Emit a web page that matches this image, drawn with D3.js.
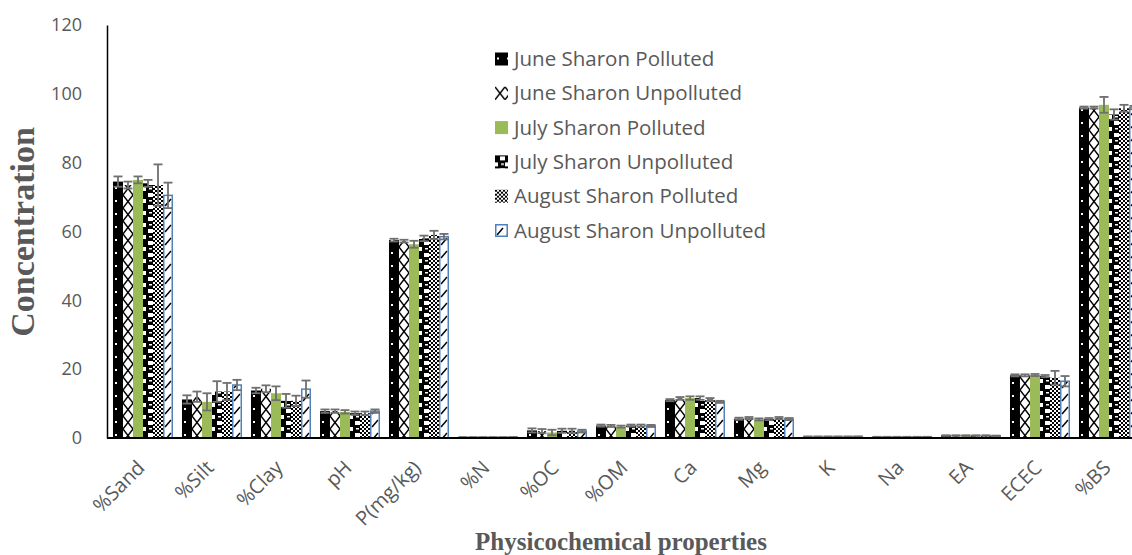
<!DOCTYPE html>
<html>
<head>
<meta charset="utf-8">
<script src="https://cdn.jsdelivr.net/npm/d3@7"></script>
<style>
  body { margin: 0; background: #fff; }
  svg { display: block; }
</style>
</head>
<body>
<script>
/* Categories along the x axis */
var categories = ["%Sand", "%Silt", "%Clay", "pH", "P(mg/kg)", "%N", "%OC", "%OM", "Ca", "Mg", "K", "Na", "EA", "ECEC", "%BS"];

/* Series names, in legend order */
var seriesNames = ["June Sharon Polluted", "June Sharon Unpolluted", "July Sharon Polluted",
                   "July Sharon Unpolluted", "August Sharon Polluted", "August Sharon Unpolluted"];

/* Mean values, one array per series */
var juneP = [74.5, 11.2, 13.8, 7.8, 57.5, 0.2, 2.2, 3.6, 11.0, 5.6, 0.4, 0.3, 0.7, 18.2, 96.0];
var juneU = [73.5, 12.0, 14.3, 7.8, 57.2, 0.2, 2.0, 3.5, 11.5, 5.8, 0.4, 0.3, 0.7, 18.2, 96.0];
var julyP = [75.0, 10.5, 13.0, 7.6, 56.3, 0.2, 1.6, 3.3, 11.6, 5.4, 0.4, 0.3, 0.7, 18.3, 96.8];
var julyU = [74.0, 13.5, 10.8, 7.2, 58.0, 0.2, 2.1, 3.6, 11.6, 5.5, 0.4, 0.3, 0.7, 18.0, 94.0];
var augP  = [73.5, 13.5, 10.8, 7.2, 59.0, 0.2, 2.1, 3.6, 11.2, 5.8, 0.4, 0.3, 0.7, 17.5, 95.8];
var augU  = [70.5, 15.4, 14.2, 7.8, 58.5, 0.2, 2.0, 3.5, 10.5, 5.5, 0.4, 0.3, 0.6, 16.5, 96.0];

/* Error bar half-widths, one array per series */
var juneErr = [1.5, 1.2, 0.8, 0.5, 0.4, 0.05, 0.6, 0.3, 0.3, 0.3, 0.05, 0.05, 0.1, 0.3, 0.3];
var juneUErr = [1.0, 1.5, 1.0, 0.5, 0.4, 0.05, 0.6, 0.3, 0.4, 0.3, 0.05, 0.05, 0.1, 0.3, 0.3];
var julyErr = [1.0, 2.5, 2.0, 0.5, 1.0, 0.05, 0.8, 0.3, 0.5, 0.3, 0.05, 0.05, 0.1, 0.3, 2.3];
var julyUErr = [1.0, 3.0, 2.0, 0.5, 0.8, 0.05, 0.6, 0.3, 0.5, 0.3, 0.05, 0.05, 0.1, 0.3, 1.5];
var augErr = [6.0, 2.5, 1.5, 0.5, 1.2, 0.05, 0.6, 0.3, 0.4, 0.3, 0.05, 0.05, 0.1, 2.0, 1.0];
var augUErr = [3.7, 1.5, 2.5, 0.5, 0.8, 0.05, 0.4, 0.3, 0.3, 0.3, 0.05, 0.05, 0.1, 1.5, 0.5];

/* Y axis tick values */
var yTicks = [0, 20, 40, 60, 80, 100, 120];

var values = [juneP, juneU, julyP, julyU, augP, augU];
var errors = [juneErr, juneUErr, julyErr, julyUErr, augErr, augUErr];

var width = 1132, height = 555;
var textColor = "#595959";

var svg = d3.select("body").append("svg")
    .attr("width", width)
    .attr("height", height);

// fill patterns, roughly the Excel pattern fills
var defs = svg.append("defs");

var p0 = defs.append("pattern").attr("id", "pat0")
    .attr("patternUnits", "userSpaceOnUse").attr("width", 10).attr("height", 13);
p0.append("rect").attr("width", 10).attr("height", 13).attr("fill", "#000");
p0.append("rect").attr("x", 2).attr("y", 5).attr("width", 2).attr("height", 2).attr("fill", "#fff");

var p1 = defs.append("pattern").attr("id", "pat1")
    .attr("patternUnits", "userSpaceOnUse").attr("width", 10).attr("height", 13);
p1.append("rect").attr("width", 10).attr("height", 13).attr("fill", "#fff");
p1.append("path").attr("d", "M0,0L10,13M10,0L0,13")
    .attr("stroke", "#000").attr("stroke-width", 1.4).attr("fill", "none");

var p3 = defs.append("pattern").attr("id", "pat3")
    .attr("patternUnits", "userSpaceOnUse").attr("width", 10).attr("height", 12);
p3.append("rect").attr("width", 10).attr("height", 12).attr("fill", "#000");
p3.append("rect").attr("x", 5).attr("y", 1).attr("width", 5).attr("height", 4).attr("fill", "#fff");
p3.append("rect").attr("x", 0).attr("y", 7).attr("width", 3).attr("height", 4).attr("fill", "#fff");
p3.append("rect").attr("x", 6).attr("y", 8).attr("width", 3).attr("height", 1.5).attr("fill", "#fff");

var p4 = defs.append("pattern").attr("id", "pat4")
    .attr("patternUnits", "userSpaceOnUse").attr("width", 4).attr("height", 4);
p4.append("rect").attr("width", 4).attr("height", 4).attr("fill", "#fff");
p4.append("rect").attr("x", 0).attr("y", 0).attr("width", 2).attr("height", 2).attr("fill", "#000");
p4.append("rect").attr("x", 2).attr("y", 2).attr("width", 2).attr("height", 2).attr("fill", "#000");

var p5 = defs.append("pattern").attr("id", "pat5")
    .attr("patternUnits", "userSpaceOnUse").attr("width", 10).attr("height", 13);
p5.append("rect").attr("width", 10).attr("height", 13).attr("fill", "#fff");
p5.append("path").attr("d", "M2,11L8,4")
    .attr("stroke", "#000").attr("stroke-width", 1.5).attr("fill", "none");

var fills = ["url(#pat0)", "url(#pat1)", "#9BBB59", "url(#pat3)", "url(#pat4)", "url(#pat5)"];
var strokes = ["none", "none", "none", "none", "none", "#4F81BD"];

var y = d3.scaleLinear()
    .domain([0, 120])
    .range([438, 25]);

var x = d3.scaleBand()
    .domain(categories)
    .range([108.5, 1143.5])
    .paddingInner(0.13)
    .paddingOuter(0.065);

var x1 = d3.scaleBand()
    .domain(d3.range(seriesNames.length))
    .range([0, x.bandwidth()]);

// flatten into one record per bar
var bars = [];
categories.forEach(function(cat, ci){
    values.forEach(function(series, si){
        bars.push({cat: cat, s: si, v: series[ci], e: errors[si][ci]});
    });
});

// each bar sits in its own translated group so the pattern starts at the bar's left edge
var barG = svg.selectAll(".bar")
    .data(bars)
    .enter().append("g")
    .attr("class", "bar")
    .attr("transform", function(d){ return "translate(" + (x(d.cat) + x1(d.s)) + ",0)"; });

barG.append("rect")
    .attr("x", function(d){ return d.s === 5 ? 0.75 : 0; })
    .attr("y", function(d){ return y(d.v); })
    .attr("width", function(d){ return d.s === 5 ? x1.bandwidth() - 1.5 : x1.bandwidth(); })
    .attr("height", function(d){ return y(0) - y(d.v); })
    .attr("fill", function(d){ return fills[d.s]; })
    .attr("stroke", function(d){ return strokes[d.s]; })
    .attr("stroke-width", 1.5);

// error bars
var errColor = "#6f6f6f";
var cx = x1.bandwidth() / 2;
barG.append("line")
    .attr("x1", cx).attr("x2", cx)
    .attr("y1", function(d){ return y(Math.max(0, d.v - d.e)); })
    .attr("y2", function(d){ return y(d.v + d.e); })
    .attr("stroke", errColor).attr("stroke-width", 1.8);
barG.append("line")
    .attr("x1", cx - 4.5).attr("x2", cx + 4.5)
    .attr("y1", function(d){ return y(d.v + d.e); })
    .attr("y2", function(d){ return y(d.v + d.e); })
    .attr("stroke", errColor).attr("stroke-width", 1.8);
barG.append("line")
    .attr("x1", cx - 4.5).attr("x2", cx + 4.5)
    .attr("y1", function(d){ return y(Math.max(0, d.v - d.e)); })
    .attr("y2", function(d){ return y(Math.max(0, d.v - d.e)); })
    .attr("stroke", errColor).attr("stroke-width", 1.8);

// y axis
var yAxis = svg.append("g")
    .attr("transform", "translate(107,0)")
    .call(d3.axisLeft(y).tickValues(yTicks).tickSize(0).tickPadding(25));
yAxis.select(".domain").attr("stroke", "#000").attr("stroke-width", 1.5);
yAxis.selectAll("text")
    .attr("fill", textColor)
    .style("font-family", "'Open Sans', sans-serif")
    .style("font-size", "18px");

// x axis
var xAxis = svg.append("g")
    .attr("transform", "translate(0,438)")
    .call(d3.axisBottom(x).tickSize(0).tickPadding(0));
xAxis.select(".domain").remove();
xAxis.append("line")
    .attr("x1", 107).attr("x2", width)
    .attr("stroke", "#000").attr("stroke-width", 2);
xAxis.selectAll(".tick text")
    .attr("fill", textColor)
    .style("font-family", "'Open Sans', sans-serif")
    .style("font-size", "20px")
    .attr("text-anchor", "end")
    .attr("dy", "0")
    .attr("transform", "translate(3,31) rotate(-45)");

// axis titles
svg.append("text")
    .attr("transform", "translate(34,232) rotate(-90)")
    .attr("text-anchor", "middle")
    .attr("fill", textColor)
    .style("font-family", "'Liberation Serif', 'Times New Roman', serif")
    .style("font-weight", "bold")
    .style("font-size", "34px")
    .text("Concentration");

svg.append("text")
    .attr("x", 621)
    .attr("y", 550)
    .attr("text-anchor", "middle")
    .attr("fill", textColor)
    .style("font-family", "'Liberation Serif', 'Times New Roman', serif")
    .style("font-weight", "bold")
    .style("font-size", "25px")
    .text("Physicochemical properties");

// legend
var legend = svg.selectAll(".legend")
    .data(seriesNames)
    .enter().append("g")
    .attr("class", "legend")
    .attr("transform", function(d, i){ return "translate(495," + (52.5 + i * 34.3) + ")"; });

legend.append("rect")
    .attr("x", function(d, i){ return i === 5 ? 0.75 : 0; })
    .attr("y", function(d, i){ return i === 5 ? 0.75 : 0; })
    .attr("width", function(d, i){ return i === 5 ? 11.5 : 13; })
    .attr("height", function(d, i){ return i === 5 ? 11.5 : 13; })
    .attr("fill", function(d, i){ return fills[i]; })
    .attr("stroke", function(d, i){ return strokes[i]; })
    .attr("stroke-width", 1.5);

legend.append("text")
    .attr("x", 19)
    .attr("y", 6.5)
    .attr("dy", "0.35em")
    .attr("fill", textColor)
    .style("font-family", "'Open Sans', sans-serif")
    .style("font-size", "20.5px")
    .text(function(d){ return d; });
</script>
</body>
</html>
